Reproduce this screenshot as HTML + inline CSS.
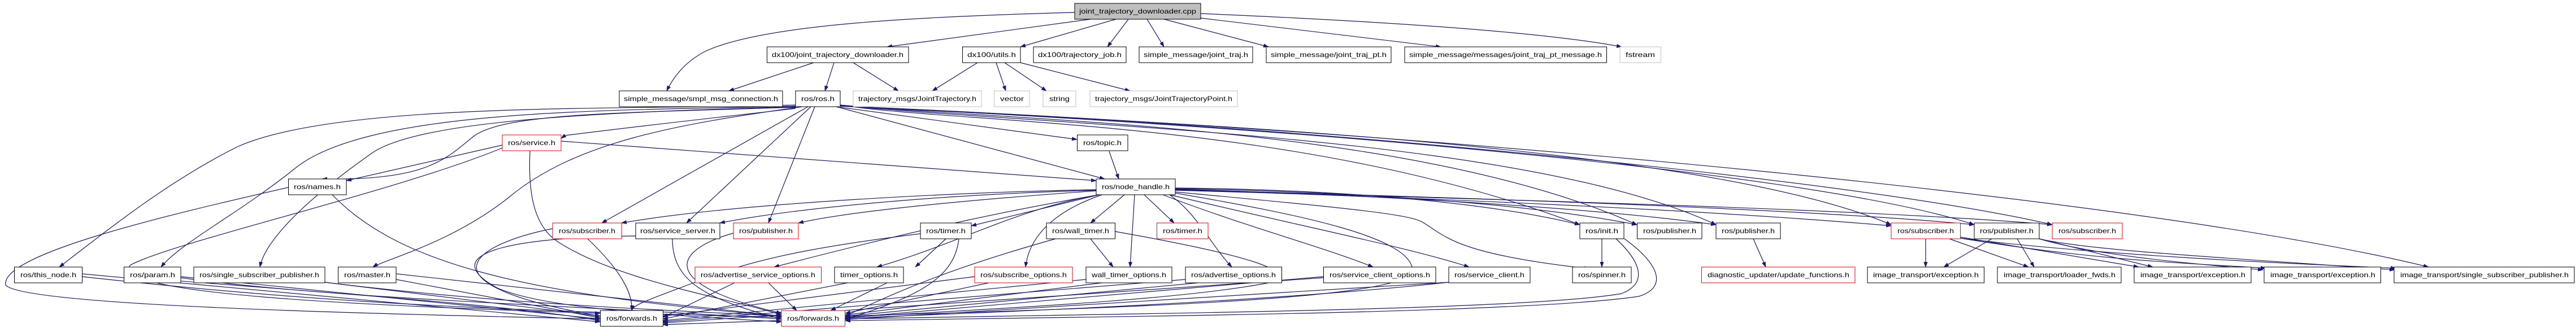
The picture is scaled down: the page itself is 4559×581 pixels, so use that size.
<!DOCTYPE html>
<html><head><meta charset="utf-8"><style>
html,body{margin:0;padding:0;background:#fff;}
svg{display:block;}
text{font-family:"Liberation Sans",sans-serif;font-size:12px;fill:#000;}
.e{fill:none;stroke:#191970;stroke-width:1.2;}
</style></head><body>
<svg width="4559" height="581" viewBox="0 0 4559 581" xmlns="http://www.w3.org/2000/svg">
<defs><marker id="a" markerWidth="10" markerHeight="7" refX="9" refY="3.5" orient="auto" markerUnits="userSpaceOnUse"><path d="M0,0 L10,3.5 L0,7 z" fill="#191970"/></marker></defs>
<g class="e" marker-end="url(#a)">
<!-- cpp -->
<path d="M1902,22 C1600,30 1350,45 1250,90 C1210,110 1190,140 1180,161"/>
<path d="M1930,34 L1570,83"/>
<path d="M1975,34 L1806,83"/>
<path d="M1997,34 L1960,83"/>
<path d="M2030,34 L2060,83"/>
<path d="M2060,34 L2245,83"/>
<path d="M2125,32 L2550,83"/>
<path d="M2125,24 C2500,40 2750,60 2870,83"/>
<!-- jtd -->
<path d="M1440,111 L1290,161"/>
<path d="M1476,111 L1460,161"/>
<path d="M1510,111 L1590,161"/>
<!-- utils -->
<path d="M1730,111 L1650,161"/>
<path d="M1763,111 L1780,161"/>
<path d="M1778,111 L1852,161"/>
<path d="M1806,111 L2000,161"/>
<!-- ros.h left -->
<path d="M1408,186 C1100,195 600,180 420,260 C300,320 200,400 105,473"/>
<path d="M1408,188 C1100,196 650,190 520,300 C420,380 320,430 285,473"/>
<path d="M1408,189 C1100,198 750,210 660,270 C560,340 470,420 460,473"/>
<path d="M1408,190 C1100,200 900,200 840,240 C790,280 760,320 570,317"/>
<path d="M1420,189 C1200,220 1020,250 900,350 C800,430 680,460 660,473"/>
<path d="M1408,192 C1300,205 1200,215 1000,240 L993,245"/>
<path d="M1430,189 L1065,395"/>
<path d="M1435,189 L1215,395"/>
<path d="M1442,189 L1360,395"/>
<path d="M1487,190 L1906,247"/>
<path d="M1480,189 L1955,317"/>
<path d="M1487,186 C1700,220 2300,210 2796,398"/>
<path d="M1487,186 C1800,215 2500,220 2897,398"/>
<path d="M1487,187 C1900,225 2700,240 3037,398"/>
<path d="M1487,188 C2000,215 3000,250 3347,398"/>
<path d="M1487,188 C2200,220 3200,300 3494,398"/>
<path d="M1487,188 C2300,220 3300,320 3632,398"/>
<path d="M1487,188 C2500,230 3800,350 4298,473"/>
<!-- service.h -->
<path d="M889,257 L613,320"/>
<path d="M993,250 L1940,320"/>
<path d="M889,262 C700,340 300,430 230,470 C200,520 600,540 1062,555"/>
<path d="M938,267 C935,330 940,400 990,430 C1100,500 1300,530 1383,558"/>
<!-- names -->
<path d="M510,332 C300,380 0,450 10,505 C40,540 600,555 1062,565"/>
<path d="M588,345 C700,460 900,520 1383,560"/>
<!-- topic -->
<path d="M1963,268 L1980,317"/>
<!-- node_handle -->
<path d="M1940,336 C1700,340 1300,360 1100,395"/>
<path d="M1940,337 C1650,345 1400,370 1274,395"/>
<path d="M1940,338 C1700,355 1500,375 1413,395"/>
<path d="M1945,345 L1719,400"/>
<path d="M1990,345 L1930,395"/>
<path d="M2025,345 L2078,395"/>
<path d="M1945,345 C1800,370 1650,400 1370,473"/>
<path d="M1945,345 C1800,370 1700,430 1552,473"/>
<path d="M1950,345 C1850,380 1820,430 1815,473"/>
<path d="M2008,345 L2000,473"/>
<path d="M2070,345 C2120,380 2140,430 2180,473"/>
<path d="M2058,345 C2200,400 2350,440 2430,473"/>
<path d="M2070,345 C2300,400 2500,440 2600,473"/>
<path d="M2080,333 C2300,335 2600,350 2796,398"/>
<path d="M2080,334 C2400,340 2700,360 2897,398"/>
<path d="M2080,335 C2400,345 2800,365 3037,398"/>
<path d="M2080,336 C2500,350 3000,370 3347,400"/>
<path d="M2080,336 C2600,350 3200,370 3494,398"/>
<path d="M2080,337 C2700,355 3300,370 3632,398"/>
<path d="M2080,340 C2400,370 2500,380 2520,395 C2560,420 2580,450 2813,476"/>
<path d="M2080,342 C2300,380 2500,420 2500,480 C2490,530 2000,545 1496,560"/>
<!-- row5 to row6/7 -->
<path d="M2835,423 L2835,473"/>
<path d="M2860,423 C2900,460 2920,500 2870,520 C2700,550 2000,555 1496,565"/>
<path d="M2875,423 C2940,470 2950,510 2900,525 C2700,555 2000,560 1496,568"/>
<path d="M3103,423 L3125,473"/>
<path d="M3408,423 L3408,473"/>
<path d="M3450,423 L3590,473"/>
<path d="M3470,420 L3785,473"/>
<path d="M3470,422 C3700,460 3850,465 4010,475"/>
<path d="M3470,422 C3700,450 4000,465 4240,475"/>
<path d="M3525,423 L3440,473"/>
<path d="M3570,423 L3600,473"/>
<path d="M3609,423 L3810,473"/>
<path d="M3609,423 C3700,450 3850,465 4005,478"/>
<path d="M3609,423 C3700,445 4000,460 4238,478"/>
<path d="M1674,423 L1620,473"/>
<path d="M1660,410 C1500,430 1350,450 1230,500 C1150,530 1120,540 1118,550"/>
<path d="M1697,423 C1690,480 1650,520 1496,565"/>
<path d="M1930,423 L1970,473"/>
<path d="M1868,423 C1700,470 1600,510 1496,560"/>
<path d="M1973,410 C2200,450 2300,480 2250,500 C2100,530 1800,545 1496,562"/>
<path d="M1040,423 C1100,480 1120,520 1118,550"/>
<path d="M978,405 C850,430 720,500 1062,560"/>
<path d="M1190,423 C1190,500 1250,530 1383,565"/>
<path d="M1298,413 C1200,440 1150,500 1383,555"/>
<path d="M1125,418 C900,420 770,450 880,510 C950,540 1100,555 1383,570"/>
<!-- row6 to forwards -->
<path d="M145,485 L1062,570"/>
<path d="M145,490 C600,540 900,550 1383,562"/>
<path d="M220,490 C600,520 900,540 1062,568"/>
<path d="M320,490 L1062,565"/>
<path d="M320,492 C600,530 1000,540 1383,565"/>
<path d="M575,500 L1062,560"/>
<path d="M575,500 C900,540 1200,550 1383,560"/>
<path d="M701,485 L1383,560"/>
<path d="M701,495 L1062,563"/>
<path d="M1300,501 L1173,562"/>
<path d="M1360,501 L1410,550"/>
<path d="M1500,501 L1173,565"/>
<path d="M1570,501 L1470,550"/>
<path d="M1750,501 L1496,555"/>
<path d="M1725,490 L1173,560"/>
<path d="M1950,501 L1496,558"/>
<path d="M1922,495 L1173,568"/>
<path d="M2120,501 L1496,560"/>
<path d="M2098,495 L1173,570"/>
<path d="M2342,490 L1496,563"/>
<path d="M2342,492 L1173,572"/>
<path d="M2564,500 L1496,566"/>
<path d="M2564,500 C2200,540 1600,560 1173,575"/>
</g>
<g>
<rect x="1902" y="6" width="223" height="28" fill="#bfbfbf" stroke="#000"/>
<text x="1910" y="24" textLength="207" lengthAdjust="spacingAndGlyphs">joint_trajectory_downloader.cpp</text>
</g>
<g fill="#fff" stroke="#000" stroke-width="1">
<rect x="1357.5" y="83" width="250.5" height="28"/>
<rect x="1703.5" y="83" width="102.5" height="28"/>
<rect x="1829" y="83" width="164" height="28"/>
<rect x="2016" y="83" width="201" height="28"/>
<rect x="2241" y="83" width="221" height="28"/>
<rect x="2486" y="83" width="357.5" height="28"/>
<rect x="1096" y="161" width="289" height="28"/>
<rect x="1408" y="161" width="79" height="28"/>
<rect x="1906.5" y="239" width="89.5" height="28"/>
<rect x="510.5" y="317" width="102.5" height="28"/>
<rect x="1940" y="317" width="140" height="28"/>
<rect x="1125" y="395" width="149" height="28"/>
<rect x="1629" y="395" width="90" height="28"/>
<rect x="1852" y="395" width="121.5" height="28"/>
<rect x="2796" y="395" width="78" height="28"/>
<rect x="2897.5" y="395" width="114.5" height="28"/>
<rect x="3037" y="395" width="114" height="28"/>
<rect x="3494" y="395" width="115" height="28"/>
<rect x="25.5" y="473" width="120" height="28"/>
<rect x="219.5" y="473" width="100.5" height="28"/>
<rect x="343" y="473" width="232" height="28"/>
<rect x="598.5" y="473" width="102.5" height="28"/>
<rect x="1477" y="473" width="122" height="28"/>
<rect x="1922" y="473" width="152" height="28"/>
<rect x="2098" y="473" width="170.5" height="28"/>
<rect x="2342.5" y="473" width="198.5" height="28"/>
<rect x="2564" y="473" width="144" height="28"/>
<rect x="2783" y="473" width="104" height="28"/>
<rect x="3305" y="473" width="206.5" height="28"/>
<rect x="3535" y="473" width="219" height="28"/>
<rect x="3777" y="473" width="207" height="28"/>
<rect x="4007" y="473" width="206.5" height="28"/>
<rect x="4237" y="473" width="319" height="28"/>
<rect x="1062.5" y="550" width="111" height="28"/>
</g>
<g fill="#fff" stroke="#bfbfbf" stroke-width="1">
<rect x="2867" y="83" width="72.5" height="28"/>
<rect x="1510" y="161" width="227" height="28"/>
<rect x="1759.5" y="161" width="62.5" height="28"/>
<rect x="1846" y="161" width="58" height="28"/>
<rect x="1929" y="161" width="261" height="28"/>
</g>
<g fill="#fff" stroke="#ff0000" stroke-width="1">
<rect x="889" y="239" width="104" height="28"/>
<rect x="978" y="395" width="122" height="28"/>
<rect x="1298" y="395" width="115" height="28"/>
<rect x="2047.5" y="395" width="90.5" height="28"/>
<rect x="3347" y="395" width="122.5" height="28"/>
<rect x="3632" y="395" width="124" height="28"/>
<rect x="1230" y="473" width="223.5" height="28"/>
<rect x="1725" y="473" width="173" height="28"/>
<rect x="3011.5" y="473" width="271.5" height="28"/>
<rect x="1383" y="550" width="112.5" height="28"/>
</g>
<g>
<text x="1366" y="101" textLength="233" lengthAdjust="spacingAndGlyphs">dx100/joint_trajectory_downloader.h</text>
<text x="1712" y="101" textLength="86" lengthAdjust="spacingAndGlyphs">dx100/utils.h</text>
<text x="1837" y="101" textLength="148" lengthAdjust="spacingAndGlyphs">dx100/trajectory_job.h</text>
<text x="2024" y="101" textLength="185" lengthAdjust="spacingAndGlyphs">simple_message/joint_traj.h</text>
<text x="2249" y="101" textLength="205" lengthAdjust="spacingAndGlyphs">simple_message/joint_traj_pt.h</text>
<text x="2494" y="101" textLength="341" lengthAdjust="spacingAndGlyphs">simple_message/messages/joint_traj_pt_message.h</text>
<text x="2877" y="101" textLength="52" lengthAdjust="spacingAndGlyphs">fstream</text>
<text x="1104" y="179" textLength="273" lengthAdjust="spacingAndGlyphs">simple_message/smpl_msg_connection.h</text>
<text x="1418" y="179" textLength="59" lengthAdjust="spacingAndGlyphs">ros/ros.h</text>
<text x="1519" y="179" textLength="209" lengthAdjust="spacingAndGlyphs">trajectory_msgs/JointTrajectory.h</text>
<text x="1770" y="179" textLength="42" lengthAdjust="spacingAndGlyphs">vector</text>
<text x="1857" y="179" textLength="36" lengthAdjust="spacingAndGlyphs">string</text>
<text x="1938" y="179" textLength="243" lengthAdjust="spacingAndGlyphs">trajectory_msgs/JointTrajectoryPoint.h</text>
<text x="899" y="257" textLength="84" lengthAdjust="spacingAndGlyphs">ros/service.h</text>
<text x="1917" y="257" textLength="68" lengthAdjust="spacingAndGlyphs">ros/topic.h</text>
<text x="520" y="335" textLength="83" lengthAdjust="spacingAndGlyphs">ros/names.h</text>
<text x="1950" y="335" textLength="120" lengthAdjust="spacingAndGlyphs">ros/node_handle.h</text>
<text x="989" y="413" textLength="100" lengthAdjust="spacingAndGlyphs">ros/subscriber.h</text>
<text x="1133" y="413" textLength="133" lengthAdjust="spacingAndGlyphs">ros/service_server.h</text>
<text x="1308" y="413" textLength="95" lengthAdjust="spacingAndGlyphs">ros/publisher.h</text>
<text x="1639" y="413" textLength="70" lengthAdjust="spacingAndGlyphs">ros/timer.h</text>
<text x="1862" y="413" textLength="101" lengthAdjust="spacingAndGlyphs">ros/wall_timer.h</text>
<text x="2058" y="413" textLength="70" lengthAdjust="spacingAndGlyphs">ros/timer.h</text>
<text x="2806" y="413" textLength="58" lengthAdjust="spacingAndGlyphs">ros/init.h</text>
<text x="2908" y="413" textLength="94" lengthAdjust="spacingAndGlyphs">ros/publisher.h</text>
<text x="3047" y="413" textLength="94" lengthAdjust="spacingAndGlyphs">ros/publisher.h</text>
<text x="3358" y="413" textLength="100" lengthAdjust="spacingAndGlyphs">ros/subscriber.h</text>
<text x="3504" y="413" textLength="95" lengthAdjust="spacingAndGlyphs">ros/publisher.h</text>
<text x="3643" y="413" textLength="102" lengthAdjust="spacingAndGlyphs">ros/subscriber.h</text>
<text x="36" y="491" textLength="99" lengthAdjust="spacingAndGlyphs">ros/this_node.h</text>
<text x="230" y="491" textLength="80" lengthAdjust="spacingAndGlyphs">ros/param.h</text>
<text x="353" y="491" textLength="212" lengthAdjust="spacingAndGlyphs">ros/single_subscriber_publisher.h</text>
<text x="609" y="491" textLength="82" lengthAdjust="spacingAndGlyphs">ros/master.h</text>
<text x="1240" y="491" textLength="203" lengthAdjust="spacingAndGlyphs">ros/advertise_service_options.h</text>
<text x="1487" y="491" textLength="102" lengthAdjust="spacingAndGlyphs">timer_options.h</text>
<text x="1735" y="491" textLength="153" lengthAdjust="spacingAndGlyphs">ros/subscribe_options.h</text>
<text x="1932" y="491" textLength="132" lengthAdjust="spacingAndGlyphs">wall_timer_options.h</text>
<text x="2108" y="491" textLength="150" lengthAdjust="spacingAndGlyphs">ros/advertise_options.h</text>
<text x="2353" y="491" textLength="178" lengthAdjust="spacingAndGlyphs">ros/service_client_options.h</text>
<text x="2574" y="491" textLength="124" lengthAdjust="spacingAndGlyphs">ros/service_client.h</text>
<text x="2793" y="491" textLength="84" lengthAdjust="spacingAndGlyphs">ros/spinner.h</text>
<text x="3022" y="491" textLength="251" lengthAdjust="spacingAndGlyphs">diagnostic_updater/update_functions.h</text>
<text x="3315" y="491" textLength="187" lengthAdjust="spacingAndGlyphs">image_transport/exception.h</text>
<text x="3546" y="491" textLength="198" lengthAdjust="spacingAndGlyphs">image_transport/loader_fwds.h</text>
<text x="3788" y="491" textLength="186" lengthAdjust="spacingAndGlyphs">image_transport/exception.h</text>
<text x="4018" y="491" textLength="186" lengthAdjust="spacingAndGlyphs">image_transport/exception.h</text>
<text x="4248" y="491" textLength="298" lengthAdjust="spacingAndGlyphs">image_transport/single_subscriber_publisher.h</text>
<text x="1073" y="568" textLength="90" lengthAdjust="spacingAndGlyphs">ros/forwards.h</text>
<text x="1393" y="568" textLength="92" lengthAdjust="spacingAndGlyphs">ros/forwards.h</text>
</g>
</svg>
</body></html>
